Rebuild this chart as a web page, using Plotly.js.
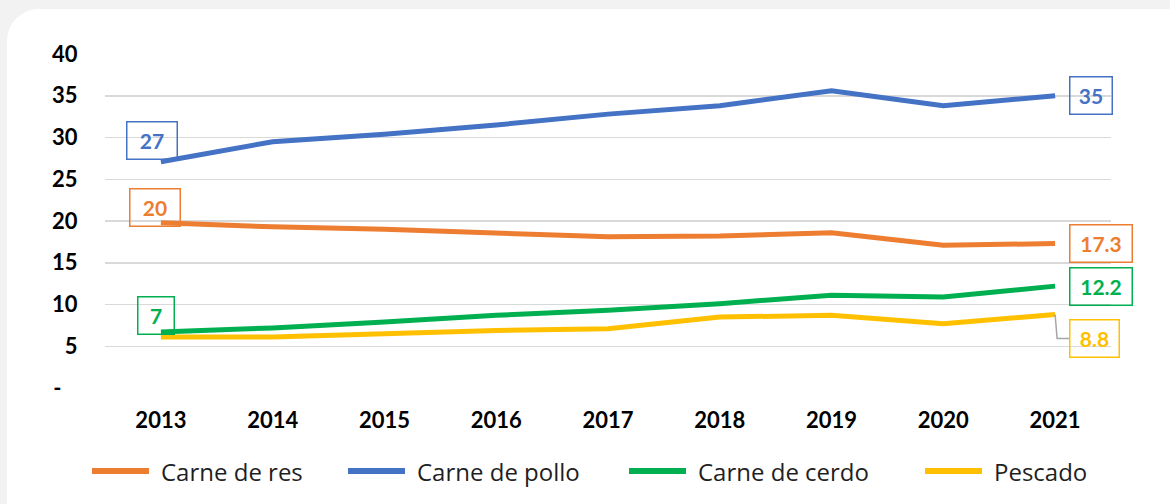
<!DOCTYPE html>
<html>
<head>
<meta charset="utf-8">
<script src="https://cdn.plot.ly/plotly-3.0.1.min.js"></script>
<style>
  html, body { margin: 0; padding: 0; background: #f2f2f2; width: 1170px; height: 504px; overflow: hidden; }
  #card { position: absolute; left: 7px; top: 9px; width: 1220px; height: 560px; background: #ffffff; border-radius: 32px; }
  #chart { position: absolute; left: 0; top: 0; width: 1170px; height: 504px; }
</style>
</head>
<body>
<div id="card"></div>
<div id="chart"></div>
<script>
const years = ['2013','2014','2015','2016','2017','2018','2019','2020','2021'];
const carneRes   = [19.8, 19.3, 19.0, 18.6, 18.1, 18.2, 18.6, 17.1, 17.3];
const carnePollo = [27.1, 29.5, 30.4, 31.5, 32.8, 33.8, 35.6, 33.8, 35.0];
const carneCerdo = [6.7, 7.2, 7.9, 8.7, 9.3, 10.1, 11.1, 10.9, 12.2];
const pescado    = [6.1, 6.1, 6.5, 6.9, 7.1, 8.5, 8.7, 7.7, 8.8];
const seriesNames = ['Carne de res', 'Carne de pollo', 'Carne de cerdo', 'Pescado'];
const yTickVals = [0, 5, 10, 15, 20, 25, 30, 35, 40];
const yTickText = ['-\u00a0\u00a0\u00a0', '5', '10', '15', '20', '25', '30', '35', '40'];
const startLabels = ['20', '27', '7', null];
const endLabels = ['17.3', '35', '12.2', '8.8'];

const colors = ['#ED7D31', '#4472C4', '#00B050', '#FFC000'];
const allSeries = [carneRes, carnePollo, carneCerdo, pescado];
const fontFam = 'Lato, "Open Sans", sans-serif';
const legendFam = '"Open Sans", Lato, sans-serif';

// plot-area geometry (pixels) used to place legend / leader line
const L = 105, R = 59, T = 54, B = 116, W = 1170, H = 504;
const plotW = W - L - R, plotH = H - T - B;

const traces = allSeries.map((vals, i) => ({
  x: years, y: vals, name: seriesNames[i], type: 'scatter', mode: 'lines',
  line: { color: colors[i], width: 5 }, showlegend: false, hoverinfo: 'x+y+name'
}));

function box(xi, y, text, color, xs, ys, w) {
  return {
    x: xi, y: y, xref: 'x', yref: 'y', text: '<b>' + text + '</b>', showarrow: false,
    xshift: xs, yshift: ys, width: w, height: 32, borderpad: 2, borderwidth: 1.5,
    bordercolor: color, bgcolor: 'rgba(255,255,255,0)',
    font: { family: fontFam, size: 21, color: color }
  };
}

const last = years.length - 1;
const annotations = [
  box(0, carneRes[0], startLabels[0], colors[0], -5.5, 15, 45),
  box(0, carnePollo[0], startLabels[1], colors[1], -8.5, 21, 45),
  box(0, carneCerdo[0], startLabels[2], colors[2], -4.5, 17, 31),
  box(last, carneRes[last], endLabels[0], colors[0], 45.5, 0, 57),
  box(last, carnePollo[last], endLabels[1], colors[1], 35.5, 0, 37),
  box(last, carneCerdo[last], endLabels[2], colors[2], 45.5, 0, 57),
  box(last, pescado[last], endLabels[3], colors[3], 39, -24, 44)
];

// leader line for the "8.8" label
const pxY = 40 / plotH, pxX = 9 / plotW;
const leaderY = pescado[last] - 24 * pxY;
const shapes = [{
  type: 'path', xref: 'x', yref: 'y',
  path: 'M ' + last + ',' + pescado[last] + ' L ' + (last + 2 * pxX) + ',' + leaderY + ' L ' + (last + 14 * pxX) + ',' + leaderY,
  line: { color: '#a6a6a6', width: 1.5 }
}];

// custom legend (long line samples as in the reference)
const legendLineStart = [92, 348, 629, 925];
const legendLineLen = 57, legendTextGap = 10, legendY = 471;
const toPX = px => (px - L) / plotW;
const toPY = py => (H - B - py) / plotH;
seriesNames.forEach((name, i) => {
  shapes.push({
    type: 'line', xref: 'paper', yref: 'paper',
    x0: toPX(legendLineStart[i]), x1: toPX(legendLineStart[i] + legendLineLen),
    y0: toPY(legendY), y1: toPY(legendY),
    line: { color: colors[i], width: 6 }
  });
  annotations.push({
    xref: 'paper', yref: 'paper', x: toPX(legendLineStart[i] + legendLineLen + legendTextGap),
    y: toPY(legendY), xanchor: 'left', yanchor: 'middle', showarrow: false,
    text: name, font: { family: legendFam, size: 24, color: '#1f1f1f' }
  });
});

const layout = {
  width: W, height: H,
  paper_bgcolor: 'rgba(0,0,0,0)', plot_bgcolor: 'rgba(0,0,0,0)',
  margin: { l: L, r: R, t: T, b: B },
  showlegend: false,
  xaxis: {
    type: 'category', range: [-0.5, 8.5], showgrid: false, zeroline: false, showline: false,
    ticks: 'outside', ticklen: 13, tickcolor: 'rgba(0,0,0,0)',
    tickfont: { family: fontFam, size: 22, color: '#000000', weight: 'bold' }
  },
  yaxis: {
    range: [0, 40], tickvals: yTickVals, ticktext: yTickText,
    showgrid: true, gridcolor: '#d9d9d9', gridwidth: 1.5, zeroline: false, showline: false,
    ticks: 'outside', ticklen: 22, tickcolor: 'rgba(0,0,0,0)',
    tickfont: { family: fontFam, size: 22, color: '#000000', weight: 'bold' }
  },
  annotations: annotations,
  shapes: shapes
};

Plotly.newPlot('chart', traces, layout, { displayModeBar: false, staticPlot: true });
</script>
</body>
</html>
